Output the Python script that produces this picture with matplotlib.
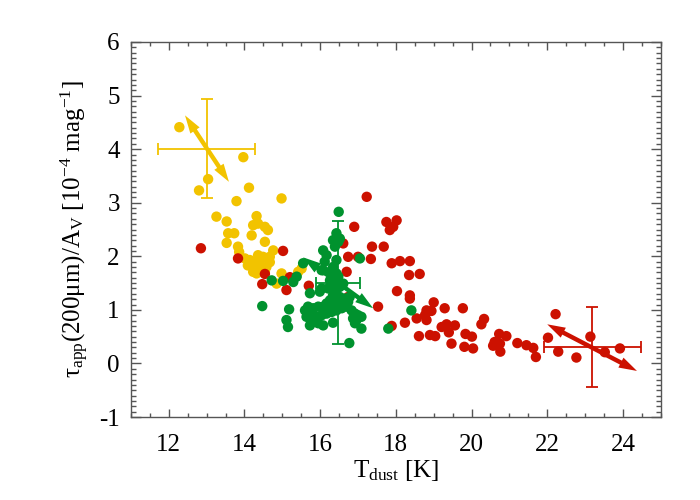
import matplotlib
matplotlib.use("Agg")
import matplotlib.pyplot as plt
from matplotlib.ticker import MultipleLocator
from matplotlib.patches import FancyArrowPatch

# ---------------- data ----------------
yellow_T = [12.28, 13.97, 13.04, 12.80, 14.12, 13.79, 14.98, 13.26, 13.53, 14.32,
            14.23, 14.54, 14.62, 13.57, 13.73, 14.19, 13.53, 14.54, 13.83, 13.86,
            14.76, 14.36, 14.49, 14.67, 14.14, 14.23, 14.32, 14.41, 14.58, 14.28,
            14.41, 14.23, 14.54, 14.32, 14.98, 14.85, 15.42, 15.51, 14.36, 14.01,
            14.46, 14.67, 14.09]
yellow_tau = [4.41, 3.85, 3.44, 3.23, 3.28, 3.03, 3.08, 2.74, 2.65, 2.75,
              2.58, 2.55, 2.49, 2.43, 2.43, 2.39, 2.25, 2.27, 2.18, 2.08,
              2.11, 2.02, 1.99, 1.99, 1.93, 1.87, 1.90, 1.83, 1.80, 1.77,
              1.74, 1.71, 1.71, 1.68, 1.68, 1.49, 1.71, 1.77, 2.61, 1.96,
              1.96, 1.89, 1.83]

red_T = [12.85, 13.83, 15.02, 14.54, 14.47, 15.11, 15.70, 15.20, 16.61, 16.74,
         16.70, 17.23, 16.90, 17.75, 18.02, 17.93, 17.84, 17.37, 17.68, 17.00,
         17.34, 17.89, 18.11, 18.37, 18.35, 18.63, 18.03, 18.37, 18.37, 17.53,
         16.74, 19.00, 19.29, 19.77, 18.81, 18.94, 18.77, 18.81, 18.55, 18.24,
         17.89, 19.21, 19.34, 19.56, 19.40, 18.61, 18.90, 19.04, 19.47, 19.81,
         20.04, 19.84, 20.01, 20.33, 20.26, 20.73, 20.92, 20.61, 20.57, 20.75,
         20.76, 21.21, 21.45, 21.63, 21.70, 22.02, 22.22, 22.29, 22.77, 23.14,
         23.52, 23.92]
red_tau = [2.15, 1.96, 2.10, 1.67, 1.48, 1.37, 1.45, 1.61, 2.24, 1.99,
           1.71, 3.11, 2.55, 2.64, 2.67, 2.55, 2.49, 2.18, 2.18, 1.99,
           1.95, 1.87, 1.91, 1.91, 1.65, 1.67, 1.35, 1.27, 1.21, 1.06,
           1.24, 1.14, 1.03, 1.03, 0.99, 0.98, 0.90, 0.81, 0.84, 0.76,
           0.70, 0.68, 0.73, 0.71, 0.58, 0.51, 0.53, 0.51, 0.37, 0.31,
           0.28, 0.55, 0.50, 0.83, 0.73, 0.55, 0.51, 0.40, 0.33, 0.37,
           0.22, 0.38, 0.34, 0.29, 0.12, 0.48, 0.92, 0.22, 0.11, 0.50,
           0.21, 0.28]

green_T = [16.49, 16.43, 16.34, 16.48, 16.39, 16.52, 16.08, 16.17, 16.12, 16.43,
           16.34, 16.26, 16.08, 16.43, 16.48, 15.55, 16.04, 17.05, 16.26, 16.34,
           16.52, 16.61, 16.43, 16.21, 16.04, 15.99, 15.73, 16.34, 16.52, 16.65,
           16.43, 16.26, 16.17, 16.08, 15.95, 15.82, 15.68, 15.60, 15.64, 15.77,
           15.90, 16.04, 16.17, 16.30, 16.43, 16.57, 16.70, 16.83, 16.92, 17.00,
           17.09, 16.87, 16.96, 15.73, 15.95, 16.34, 17.09, 16.77, 14.47, 15.18,
           15.11, 15.15, 14.72, 15.02, 15.29, 15.38, 18.41, 17.80, 16.74, 16.78,
           16.52, 16.30, 15.73, 16.92, 16.08]
green_tau = [2.83, 2.43, 2.30, 2.27, 2.18, 2.33, 2.11, 2.02, 1.90, 1.93,
             1.80, 1.71, 1.74, 1.68, 1.62, 1.87, 1.74, 1.96, 1.55, 1.49,
             1.43, 1.49, 1.37, 1.40, 1.40, 1.34, 1.31, 1.27, 1.24, 1.21,
             1.15, 1.18, 1.12, 1.06, 1.06, 1.03, 1.06, 0.99, 0.87, 0.84,
             0.87, 0.90, 0.93, 0.96, 0.99, 1.03, 1.06, 0.99, 0.93, 0.90,
             0.87, 0.84, 0.81, 0.71, 0.75, 0.76, 0.65, 0.38, 1.07, 1.01,
             0.81, 0.68, 1.55, 1.54, 1.52, 1.62, 0.99, 0.65, 1.15, 1.24,
             1.09, 1.06, 0.93, 0.75, 0.71]

# typical error bars (center, x error, y error)
err_T = [13.00, 16.48, 23.19]
err_tau = [4.01, 1.505, 0.31]
err_dT = [1.28, 0.58, 1.28]
err_dtau = [0.92, 1.15, 0.75]

# correlation arrows (start, end)
arrow_T0 = [12.43, 15.55, 22.00]
arrow_tau0 = [4.63, 1.98, 0.73]
arrow_T1 = [13.59, 17.40, 24.37]
arrow_tau1 = [3.39, 1.03, -0.14]

colors = ["#F2C300", "#00922E", "#CC1100"]

# ---------------- plotting ----------------
plt.rcParams['font.family'] = ['Liberation Serif', 'DejaVu Serif']
plt.rcParams['mathtext.fontset'] = 'custom'
plt.rcParams['mathtext.rm'] = 'Liberation Serif'
plt.rcParams['mathtext.it'] = 'Liberation Serif:italic'

fig = plt.figure(figsize=(7, 5), dpi=100)
ax = fig.add_axes([0.187, 0.166, 0.757, 0.750])

ax.scatter(yellow_T, yellow_tau, s=56, color=colors[0], edgecolors='none', zorder=2)
ax.scatter(red_T, red_tau, s=56, color=colors[2], edgecolors='none', zorder=3)
ax.scatter(green_T, green_tau, s=56, color=colors[1], edgecolors='none', zorder=4)

style = 'simple,head_length=1.3,head_width=0.8,tail_width=0.32'
for i, c in enumerate(colors):
    ax.errorbar(err_T[i], err_tau[i], xerr=err_dT[i], yerr=err_dtau[i],
                color=c, lw=1.3, capsize=4, capthick=1.3, zorder=5)
    mT = 0.5 * (arrow_T0[i] + arrow_T1[i])
    mtau = 0.5 * (arrow_tau0[i] + arrow_tau1[i])
    for (eT, etau) in [(arrow_T0[i], arrow_tau0[i]), (arrow_T1[i], arrow_tau1[i])]:
        p = FancyArrowPatch((mT, mtau), (eT, etau), arrowstyle=style,
                            mutation_scale=10, color=c, lw=0,
                            shrinkA=0, shrinkB=0, zorder=6)
        ax.add_patch(p)

ax.set_xlim(11, 25)
ax.set_ylim(-1, 6)
ax.xaxis.set_major_locator(MultipleLocator(2))
ax.xaxis.set_minor_locator(MultipleLocator(0.5))
ax.yaxis.set_major_locator(MultipleLocator(1))
ax.yaxis.set_minor_locator(MultipleLocator(0.1))

spine_c = '#555555'
for s in ax.spines.values():
    s.set_color(spine_c)
    s.set_linewidth(1.0)
ax.tick_params(which='both', direction='in', top=True, right=True, colors=spine_c,
               labelcolor='black', labelsize=18)
ax.tick_params(axis='x', which='major', length=5.5, width=1, pad=12)
ax.tick_params(axis='x', which='minor', length=2.8, width=1)
ax.tick_params(axis='y', which='major', length=7.5, width=1, pad=8)
ax.tick_params(axis='y', which='minor', length=3.6, width=1)

ax.set_xticks([12, 14, 16, 18, 20, 22, 24])
ax.set_xticklabels(['12', '14', '16', '18', '20', '22', '24'])
ax.set_yticks([-1, 0, 1, 2, 3, 4, 5, 6])
ax.set_yticklabels(['-1', '0', '1', '2', '3', '4', '5', '6'])

ax.set_xlabel(r'T$_{\rm dust}$ [K]', fontsize=18, labelpad=2)
ax.set_ylabel(r'τ$_{\rm app}$(200μm)/A$_{\rm V}$ [10$^{-4}$ mag$^{-1}$]', fontsize=18, labelpad=6)

fig.savefig('out.png', dpi=100)
